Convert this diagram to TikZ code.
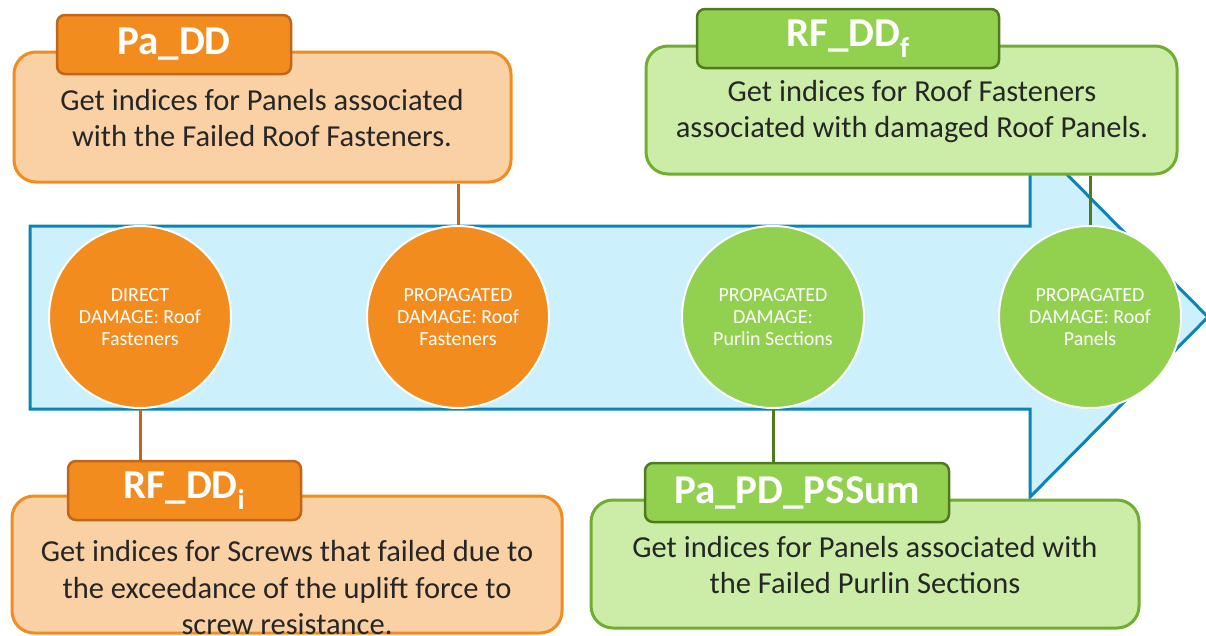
\documentclass[tikz,border=0pt]{standalone}
\usepackage{fontspec}
\setmainfont{Carlito}
\usetikzlibrary{calc}
\definecolor{orgfill}{HTML}{F28C1E}
\definecolor{orgdark}{HTML}{C0661A}
\definecolor{orglight}{HTML}{FAD0A5}
\definecolor{grnfill}{HTML}{92D050}
\definecolor{grndark}{HTML}{4F7A1E}
\definecolor{grnedge}{HTML}{70AD30}
\definecolor{grnlight}{HTML}{CCEDA8}
\definecolor{arrfill}{HTML}{CCF0FC}
\definecolor{arredge}{HTML}{0B84B8}
\tikzset{
  bigbox/.style={rounded corners=22pt,line width=3pt,inner sep=0pt},
  tabbox/.style={rounded corners=8pt,line width=2.5pt,inner sep=0pt,minimum height=59pt,
    text=white,font=\fontsize{41}{44}\selectfont\bfseries},
  desc/.style={align=center,text=black!85,font=\fontsize{30.5}{36.5}\selectfont},
  damage/.style={circle,draw=white,line width=2pt,minimum size=182pt,inner sep=0pt,
    text=white,align=center,font=\fontsize{20}{22}\selectfont},
  link/.style={line width=3pt}
}
\begin{document}
\begin{tikzpicture}[x=1pt,y=-1pt]
      \useasboundingbox (0,0) rectangle (1206,635);
      \clip (0,0) rectangle (1206,635);

      % arrow
      \draw[line width=3pt,draw=arredge,fill=arrfill] (30,226) -- (1030,226) -- (1030,137) -- (1208,317)
        -- (1030,497) -- (1030,409) -- (30,409) -- cycle;

      % boxes
      \node (padd) at (262.5,117) [bigbox,draw=orgfill,fill=orglight,minimum width=497pt,minimum height=130pt]{};
      \node (rfddf) at (911.5,110) [bigbox,draw=grnedge,fill=grnlight,minimum width=531pt,minimum height=128pt]{};
      \node (rfddi) at (287,564.5) [bigbox,draw=orgfill,fill=orglight,minimum width=550pt,minimum height=137pt]{};
      \node (papd) at (865,564) [bigbox,draw=grnedge,fill=grnlight,minimum width=548pt,minimum height=128pt]{};

      \node (paddtab) at (174,44.5) [tabbox,draw=orgdark,fill=orgfill,minimum width=234pt]{Pa\_DD};
      \node (rfddftab) at (848,38.5) [tabbox,draw=grndark,fill=grnfill,minimum width=302pt]{RF\_DD\textsubscript{f}};
      \node (rfdditab) at (184.5,490.5) [tabbox,draw=orgdark,fill=orgfill,minimum width=233pt]{RF\_DD\textsubscript{i}};
      \node (papdtab) at (797,492.5) [tabbox,draw=grndark,fill=grnfill,minimum width=304pt]{Pa\_PD\_PSSum};

      \node (paddtxt) at (262,118) [desc]{Get indices for Panels associated\\with the Failed Roof Fasteners.};
      \node (rfddftxt) at (912,111.5) [desc]{Get indices for Roof Fasteners\\associated with damaged Roof Panels.};
      \node (rfdditxt) at (287,588) [desc]{Get indices for Screws that failed due to\\the exceedance of the uplift force to\\screw resistance.};
      \node (papdtxt) at (865,565) [desc]{Get indices for Panels associated with\\the Failed Purlin Sections};

      % damage stages
      \coordinate (c1) at (140,317);
      \coordinate (c2) at (458,317);
      \coordinate (c3) at (773,317);
      \coordinate (c4) at (1090,317);

      \draw[link,orgdark] (c1) -- (c1 |- rfdditab.north);
      \draw[link,orgdark] (c2) -- (c2 |- padd.south);
      \draw[link,grndark] (c3) -- (c3 |- papdtab.north);
      \draw[link,grndark] (c4) -- (c4 |- rfddf.south);

      \node (dmg1) at (c1) [damage,fill=orgfill]{DIRECT\\DAMAGE: Roof\\Fasteners};
      \node (dmg2) at (c2) [damage,fill=orgfill]{PROPAGATED\\DAMAGE: Roof\\Fasteners};
      \node (dmg3) at (c3) [damage,fill=grnfill]{PROPAGATED\\DAMAGE:\\Purlin Sections};
      \node (dmg4) at (c4) [damage,fill=grnfill]{PROPAGATED\\DAMAGE: Roof\\Panels};
    \end{tikzpicture}
\end{document}
